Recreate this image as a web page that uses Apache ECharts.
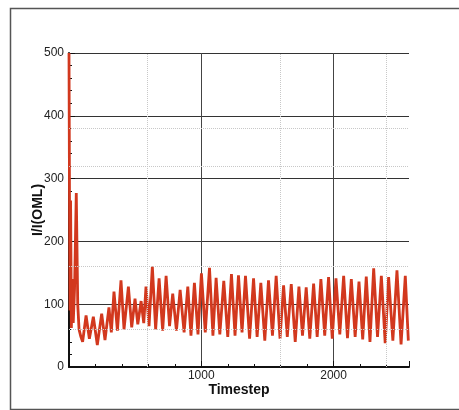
<!DOCTYPE html>
<html>
<head>
<meta charset="utf-8">
<style>
html,body{margin:0;padding:0;background:#fff;}
#chart{width:459px;height:410px;}
</style>
<script src="https://cdn.jsdelivr.net/npm/echarts@6/dist/echarts.min.js"></script>
</head>
<body>
<div id="chart"></div>
<script>
// Timestep values (x) and I/I(OML) values (y)
var timesteps = [0, 4, 8, 12, 18, 24, 32, 42, 55, 66, 76, 90,
  103, 129, 154, 184, 214, 247, 272, 302, 320, 340, 366, 393, 416, 449, 474, 499, 520, 545, 565,
  582, 605, 630, 655, 681, 708, 734, 760, 784, 812, 840, 870, 898, 922, 948, 975,
  1001, 1030, 1062, 1088, 1112, 1140, 1170, 1200, 1228, 1255, 1281, 1308, 1334, 1365,
  1395, 1422, 1450, 1480, 1508, 1538, 1566, 1595, 1622, 1650, 1680, 1710, 1738, 1765,
  1793, 1820, 1849, 1876, 1904, 1933, 1962, 1990, 2018, 2047, 2076, 2105, 2134, 2163,
  2192, 2220, 2247, 2275, 2303, 2332, 2361, 2390, 2416, 2448, 2479, 2510, 2542, 2565];
var ratio = [500, 260, 90, 265, 62, 140, 70, 125, 277, 100, 60, 48,
  40, 82, 45, 80, 35, 85, 43, 95, 55, 120, 58, 138, 60, 128, 63, 109, 68, 105, 70,
  128, 65, 160, 60, 141, 58, 145, 65, 117, 58, 123, 55, 128, 50, 134, 52,
  149, 55, 158, 50, 142, 52, 137, 48, 148, 50, 146, 55, 145, 45,
  141, 48, 134, 42, 138, 50, 145, 45, 130, 48, 132, 40, 128, 50,
  127, 45, 133, 48, 140, 50, 143, 45, 141, 52, 145, 46, 140, 48,
  136, 44, 144, 40, 157, 48, 145, 38, 143, 42, 154, 36, 145, 42];
var faintX = [590, 1600, 2400];
var faintY = [60, 160, 320, 380];

var data = timesteps.map(function (t, i) { return [t, ratio[i]]; });
var marks = faintX.map(function (v) { return { xAxis: v }; })
  .concat(faintY.map(function (v) { return { yAxis: v }; }));

var chart = echarts.init(document.getElementById('chart'));
chart.setOption({
  backgroundColor: '#ffffff',
  animation: false,
  graphic: [{
    type: 'rect', left: 8, top: 6, silent: true, z: -10,
    shape: { width: 470, height: 401 },
    style: { fill: 'none', stroke: '#555', lineWidth: 1.5 }
  }],
  grid: { left: 69, right: 50, top: 53, bottom: 43, containLabel: false },
  xAxis: {
    type: 'value', min: 0, max: 2570, interval: 1000,
    name: 'Timestep', nameLocation: 'middle', nameGap: 16, nameMoveOverlap: false,
    nameTextStyle: { fontFamily: 'Liberation Sans', fontWeight: 'bold', fontSize: 14, color: '#111' },
    axisLine: { show: true, lineStyle: { color: '#111', width: 2 } },
    axisTick: { show: true, inside: true, length: 6, lineStyle: { color: '#111' } },
    minorTick: { show: true, splitNumber: 5, length: 3, lineStyle: { color: '#111' } },
    axisLabel: { showMinLabel: false, showMaxLabel: false, margin: 3,
      formatter: function (v) { return String(v); },
      fontFamily: 'Liberation Sans', fontSize: 12, color: '#222' },
    splitLine: { show: true, showMinLine: false, showMaxLine: false, lineStyle: { color: '#444', width: 1 } }
  },
  yAxis: {
    type: 'value', min: 0, max: 500, interval: 100,
    name: 'I/I(OML)', nameLocation: 'middle', nameGap: 24, nameRotate: 90, nameMoveOverlap: false,
    nameTextStyle: { fontFamily: 'Liberation Sans', fontWeight: 'bold', fontSize: 14, color: '#111' },
    axisLine: { show: true, lineStyle: { color: '#111', width: 2 } },
    axisTick: { show: true, inside: true, length: 6, lineStyle: { color: '#111' } },
    minorTick: { show: true, splitNumber: 5, length: 3, lineStyle: { color: '#111' } },
    axisLabel: { margin: 5, fontFamily: 'Liberation Sans', fontSize: 12, color: '#222' },
    splitLine: { show: true, lineStyle: { color: '#333', width: 1 } }
  },
  series: [{
    type: 'line', data: data, showSymbol: false, smooth: false,
    lineStyle: { color: '#d2381e', width: 2.8 },
    markLine: {
      silent: true, symbol: 'none', label: { show: false },
      lineStyle: { color: '#c8c8c8', type: 'dotted', width: 1 },
      data: marks
    }
  }]
});
</script>
</body>
</html>
